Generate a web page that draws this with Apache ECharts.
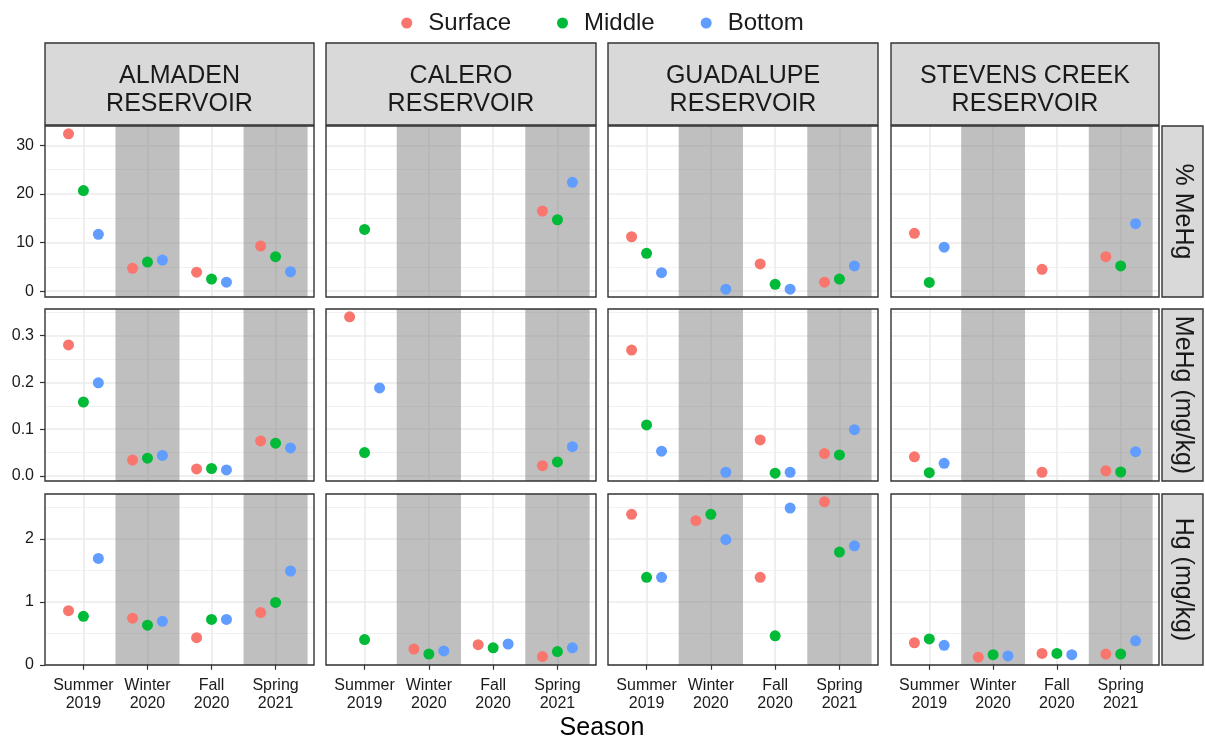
<!DOCTYPE html>
<html>
<head>
<meta charset="utf-8">
<script src="https://cdn.jsdelivr.net/npm/echarts@6/dist/echarts.min.js"></script>
<style>
  html, body { margin: 0; padding: 0; background: #ffffff; }
  #chart { width: 1205px; height: 738px; }
</style>
</head>
<body>
<div id="chart"></div>
<script>
// Sampling seasons, reservoirs and depth layers
const seasons = ['Summer\n2019', 'Winter\n2020', 'Fall\n2020', 'Spring\n2021'];
const reservoirs = ['ALMADEN\nRESERVOIR', 'CALERO\nRESERVOIR', 'GUADALUPE\nRESERVOIR', 'STEVENS CREEK\nRESERVOIR'];
const depths = ['Surface', 'Middle', 'Bottom'];
const measures = ['% MeHg', 'MeHg (mg/kg)', 'Hg (mg/kg)'];
const depthColors = ['#F8766D', '#00BA38', '#619CFF'];
const shadedSeasons = [1, 3]; // Winter 2020 and Spring 2021 are shaded

// Rows: reservoir; columns: season (null = not sampled)
const pctMeHgSurface = [
  [32.4, 4.7, 3.9, 9.3],
  [null, null, null, 16.5],
  [11.2, null, 5.6, 1.85],
  [11.9, null, 4.5, 7.1]
];
const pctMeHgMiddle = [
  [20.7, 6.0, 2.5, 7.1],
  [12.7, null, null, 14.7],
  [7.8, null, 1.4, 2.5],
  [1.8, null, null, 5.2]
];
const pctMeHgBottom = [
  [11.7, 6.4, 1.85, 4.0],
  [null, null, null, 22.4],
  [3.8, 0.4, 0.4, 5.2],
  [9.05, null, null, 13.9]
];

const meHgSurface = [
  [0.280, 0.034, 0.015, 0.075],
  [0.340, null, null, 0.022],
  [0.269, null, 0.077, 0.048],
  [0.041, null, 0.008, 0.011]
];
const meHgMiddle = [
  [0.158, 0.038, 0.016, 0.070],
  [0.050, null, null, 0.030],
  [0.109, null, 0.006, 0.045],
  [0.007, null, null, 0.0085]
];
const meHgBottom = [
  [0.199, 0.044, 0.013, 0.060],
  [0.188, null, null, 0.0625],
  [0.053, 0.008, 0.008, 0.099],
  [0.027, null, null, 0.052]
];

const hgSurface = [
  [0.86, 0.74, 0.43, 0.83],
  [null, 0.25, 0.32, 0.13],
  [2.39, 2.29, 1.39, 2.59],
  [0.35, 0.12, 0.18, 0.17]
];
const hgMiddle = [
  [0.77, 0.63, 0.72, 0.99],
  [0.40, 0.17, 0.27, 0.21],
  [1.39, 2.39, 0.46, 1.79],
  [0.41, 0.16, 0.18, 0.17]
];
const hgBottom = [
  [1.69, 0.69, 0.72, 1.49],
  [null, 0.22, 0.33, 0.27],
  [1.39, 1.99, 2.49, 1.89],
  [0.31, 0.14, 0.16, 0.38]
];

// Tick labels per facet row
const yTicks = [[0, 10, 20, 30], [0, 0.1, 0.2, 0.3], [0, 1, 2]];
const yMinorTicks = [[5, 15, 25], [0.05, 0.15, 0.25, 0.35], [0.5, 1.5, 2.5]];
const yDecimals = [0, 1, 0];
const xTicks = [1, 2, 3, 4];

// Table of [measure][depth] -> reservoir x season matrix
const table = [
  [pctMeHgSurface, pctMeHgMiddle, pctMeHgBottom],
  [meHgSurface, meHgMiddle, meHgBottom],
  [hgSurface, hgMiddle, hgBottom]
];

// Panel geometry (pixels)
const colX = [[45, 314], [326, 596], [608, 878], [891, 1159]];
const rowY = [[126, 297], [309, 481], [494, 665]];
const dodge = [-0.233, 0, 0.233];
const FONT = '"Liberation Sans", Arial, sans-serif';
const TEXT = '#1a1a1a';

// Shared y range per row with 5% padding, like a free_y facet grid
function rowRange(r) {
  const vals = [];
  table[r].forEach(m => m.forEach(row => row.forEach(v => { if (v != null) vals.push(v); })));
  const lo = Math.min(...vals), hi = Math.max(...vals);
  const pad = (hi - lo) * 0.05;
  return [lo - pad, hi + pad];
}

const grids = [], xAxes = [], yAxes = [], series = [], graphics = [];

for (let r = 0; r < 3; r++) {
  const [ymin, ymax] = rowRange(r);
  for (let c = 0; c < 4; c++) {
    const g = r * 4 + c;
    grids.push({
      left: colX[c][0], top: rowY[r][0],
      width: colX[c][1] - colX[c][0], height: rowY[r][1] - rowY[r][0],
      show: false
    });
    xAxes.push({
      type: 'value', gridIndex: g, min: 0.4, max: 4.6,
      axisLine: { show: false },
      axisTick: { show: r === 2, customValues: xTicks, length: 5, lineStyle: { color: '#333', width: 1.2 } },
      axisLabel: {
        show: r === 2, customValues: xTicks, fontSize: 16, lineHeight: 18, margin: 12,
        color: TEXT, fontFamily: FONT,
        formatter: v => seasons[Math.round(v) - 1]
      },
      splitLine: { show: true, lineStyle: { color: '#ebebeb', width: 1.6 } }
    });
    // major y axis
    yAxes.push({
      type: 'value', gridIndex: g, min: ymin, max: ymax,
      axisLine: { show: false },
      axisTick: { show: c === 0, customValues: yTicks[r], length: 5, lineStyle: { color: '#333', width: 1.2 } },
      axisLabel: {
        show: c === 0, customValues: yTicks[r], fontSize: 16, margin: 11,
        color: TEXT, fontFamily: FONT,
        formatter: v => v.toFixed(yDecimals[r])
      },
      splitLine: { show: true, lineStyle: { color: '#ebebeb', width: 1.6 } }
    });
    // minor y grid lines
    yAxes.push({
      type: 'value', gridIndex: g, min: ymin, max: ymax, position: 'left',
      axisLine: { show: false },
      axisTick: { show: false, customValues: yMinorTicks[r] },
      axisLabel: { show: false, customValues: yMinorTicks[r] },
      splitLine: { show: true, lineStyle: { color: '#efefef', width: 0.9 } }
    });

    // shaded seasons
    series.push({
      type: 'scatter', name: 'band', xAxisIndex: g, yAxisIndex: 2 * g, data: [],
      silent: true, z: 1,
      markArea: {
        silent: true,
        itemStyle: { color: 'rgba(127,127,127,0.5)' },
        data: shadedSeasons.map(s => [{ xAxis: s + 0.5 }, { xAxis: s + 1.5 }])
      }
    });

    depths.forEach((d, k) => {
      const vals = table[r][k][c];
      const data = [];
      vals.forEach((v, s) => { if (v != null) data.push([s + 1 + dodge[k], v]); });
      series.push({
        type: 'scatter', name: d, xAxisIndex: g, yAxisIndex: 2 * g, z: 3,
        symbol: 'circle', symbolSize: 11,
        itemStyle: { color: depthColors[k], opacity: 1 },
        data
      });
    });

    // panel border
    graphics.push({
      type: 'rect', z: 100, silent: true,
      shape: { x: colX[c][0], y: rowY[r][0], width: colX[c][1] - colX[c][0], height: rowY[r][1] - rowY[r][0] },
      style: { fill: 'none', stroke: '#333', lineWidth: 1.4 }
    });
  }
}

// column strips
reservoirs.forEach((name, c) => {
  const w = colX[c][1] - colX[c][0];
  graphics.push({
    type: 'rect', z: 100, silent: true,
    shape: { x: colX[c][0], y: 43, width: w, height: 82 },
    style: { fill: '#d9d9d9', stroke: '#333', lineWidth: 1.4 }
  });
  graphics.push({
    type: 'text', z: 101, silent: true,
    x: colX[c][0] + w / 2, y: 90,
    style: {
      text: name, fill: TEXT, font: '25px ' + FONT,
      align: 'center', verticalAlign: 'middle', lineHeight: 28
    }
  });
});

// row strips
measures.forEach((name, r) => {
  const h = rowY[r][1] - rowY[r][0];
  graphics.push({
    type: 'rect', z: 100, silent: true,
    shape: { x: 1162, y: rowY[r][0], width: 41, height: h },
    style: { fill: '#d9d9d9', stroke: '#333', lineWidth: 1.4 }
  });
  graphics.push({
    type: 'text', z: 101, silent: true,
    x: 1183, y: rowY[r][0] + h / 2, rotation: -Math.PI / 2,
    style: {
      text: name, fill: TEXT, font: '25px ' + FONT,
      align: 'center', verticalAlign: 'middle'
    }
  });
});

// x axis title
graphics.push({
  type: 'text', z: 101, silent: true,
  x: (colX[0][0] + colX[3][1]) / 2, y: 728,
  style: { text: 'Season', fill: '#000', font: '25px ' + FONT, align: 'center', verticalAlign: 'middle' }
});

const chart = echarts.init(document.getElementById('chart'), null, { renderer: 'canvas' });
chart.setOption({
  animation: false,
  backgroundColor: '#ffffff',
  textStyle: { fontFamily: FONT },
  legend: {
    data: depths.map((d, k) => ({ name: d, icon: 'circle', itemStyle: { color: depthColors[k] } })),
    top: 6, left: 'center',
    itemWidth: 11, itemHeight: 11, itemGap: 46,
    textStyle: { fontSize: 24, color: TEXT, fontFamily: FONT, padding: [0, 0, 0, 11] }
  },
  grid: grids,
  xAxis: xAxes,
  yAxis: yAxes,
  series,
  graphic: graphics
});
</script>
</body>
</html>
